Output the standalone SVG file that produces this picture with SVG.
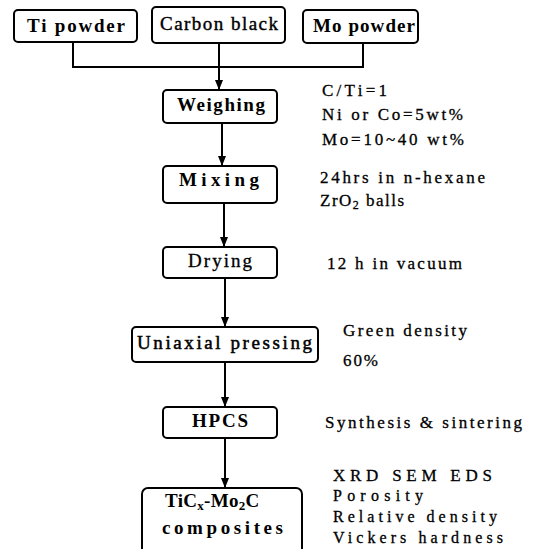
<svg xmlns="http://www.w3.org/2000/svg" width="533" height="549" viewBox="0 0 533 549">
<style>
.box{fill:#fff;stroke:#000;stroke-width:2}
.lbl{font-family:"Liberation Serif","Times New Roman",serif;font-weight:bold;font-size:19px;fill:#000}
.note{font-family:"Liberation Serif","Times New Roman",serif;font-size:17px;fill:#000;stroke:#000;stroke-width:0.3}
.sm{font-size:16px}
.ln{fill:none;stroke:#000;stroke-width:2}
</style>
<defs>
<marker id="ah" viewBox="0 0 10 10" refX="9" refY="5" markerWidth="5" markerHeight="5" orient="auto" markerUnits="strokeWidth">
<path d="M0,1 L10,5 L0,9 z" fill="#000"/>
</marker>
</defs>
<rect width="533" height="549" fill="#fff"/>
<g id="connectors">
<path class="ln" d="M73,42 V67 H363 V42"/>
<path class="ln" d="M219,43 V89" marker-end="url(#ah)"/>
<path class="ln" d="M222,123 V165" marker-end="url(#ah)"/>
<path class="ln" d="M224,203 V246" marker-end="url(#ah)"/>
<path class="ln" d="M225,278 V326" marker-end="url(#ah)"/>
<path class="ln" d="M225,362 V406" marker-end="url(#ah)"/>
<path class="ln" d="M225,438 V487" marker-end="url(#ah)"/>
</g>
<g id="ti">
<rect class="box" x="14" y="10" width="123" height="32" rx="4"/>
<text class="lbl" x="27" y="32" textLength="98" lengthAdjust="spacing">Ti powder</text>
</g>
<g id="carbon">
<rect class="box" x="152" y="7" width="133" height="36" rx="4"/>
<text class="lbl" x="160" y="30" textLength="118" lengthAdjust="spacing" style="font-weight:normal;stroke:#000;stroke-width:0.4">Carbon black</text>
</g>
<g id="mo">
<rect class="box" x="303" y="10" width="115" height="33" rx="4"/>
<text class="lbl" x="313" y="32" textLength="102" lengthAdjust="spacing">Mo powder</text>
</g>
<g id="weighing">
<rect class="box" x="163" y="90" width="114" height="33" rx="4"/>
<text class="lbl" x="177" y="111" textLength="88" lengthAdjust="spacing">Weighing</text>
</g>
<g id="mixing">
<rect class="box" x="163" y="166" width="114" height="37" rx="4"/>
<text class="lbl" x="179" y="186" textLength="80" lengthAdjust="spacing">Mixing</text>
</g>
<g id="drying">
<rect class="box" x="163" y="247" width="114" height="31" rx="4"/>
<text class="lbl" x="188" y="267" textLength="64" lengthAdjust="spacing" style="font-weight:normal;stroke:#000;stroke-width:0.3">Drying</text>
</g>
<g id="pressing">
<rect class="box" x="132" y="327" width="186" height="35" rx="4"/>
<text class="lbl" x="137" y="349" textLength="175" lengthAdjust="spacing" style="font-weight:normal;stroke:#000;stroke-width:0.5">Uniaxial pressing</text>
</g>
<g id="hpcs">
<rect class="box" x="163" y="407" width="114" height="31" rx="4"/>
<text class="lbl" x="192" y="427" textLength="56" lengthAdjust="spacing">HPCS</text>
</g>
<g id="composites">
<rect class="box" x="142" y="488" width="160" height="80" rx="6"/>
<text class="lbl" x="165" y="507" letter-spacing="0.3">TiC<tspan font-size="13" dy="3">x</tspan><tspan dy="-3">-Mo</tspan><tspan font-size="13" dy="3">2</tspan><tspan dy="-3">C</tspan></text>
<text class="lbl" x="162" y="534" textLength="121" lengthAdjust="spacing">composites</text>
</g>
<g id="notes">
<text class="note" x="322" y="96" textLength="65" lengthAdjust="spacing">C/Ti=1</text>
<text class="note" x="322" y="120" textLength="141" lengthAdjust="spacing">Ni or Co=5wt%</text>
<text class="note" x="322" y="145" textLength="142" lengthAdjust="spacing">Mo=10~40 wt%</text>
<text class="note" x="320" y="183" textLength="165" lengthAdjust="spacing">24hrs in n-hexane</text>
<text class="note" x="320" y="206" letter-spacing="1.5">ZrO<tspan font-size="12" dy="3">2</tspan><tspan dy="-3"> balls</tspan></text>
<text class="note" x="327" y="269" textLength="135" lengthAdjust="spacing">12 h in vacuum</text>
<text class="note" x="343" y="336" textLength="124" lengthAdjust="spacing">Green density</text>
<text class="note" x="343" y="366" textLength="35" lengthAdjust="spacing">60%</text>
<text class="note" x="325" y="428" textLength="197" lengthAdjust="spacing">Synthesis &amp; sintering</text>
<text class="note" x="333" y="481" textLength="159" lengthAdjust="spacing">XRD  SEM  EDS</text>
<text class="note sm" x="333" y="501" textLength="90" lengthAdjust="spacing">Porosity</text>
<text class="note sm" x="333" y="522" textLength="164" lengthAdjust="spacing">Relative density</text>
<text class="note sm" x="333" y="543" textLength="170" lengthAdjust="spacing">Vickers hardness</text>
</g>
</svg>
